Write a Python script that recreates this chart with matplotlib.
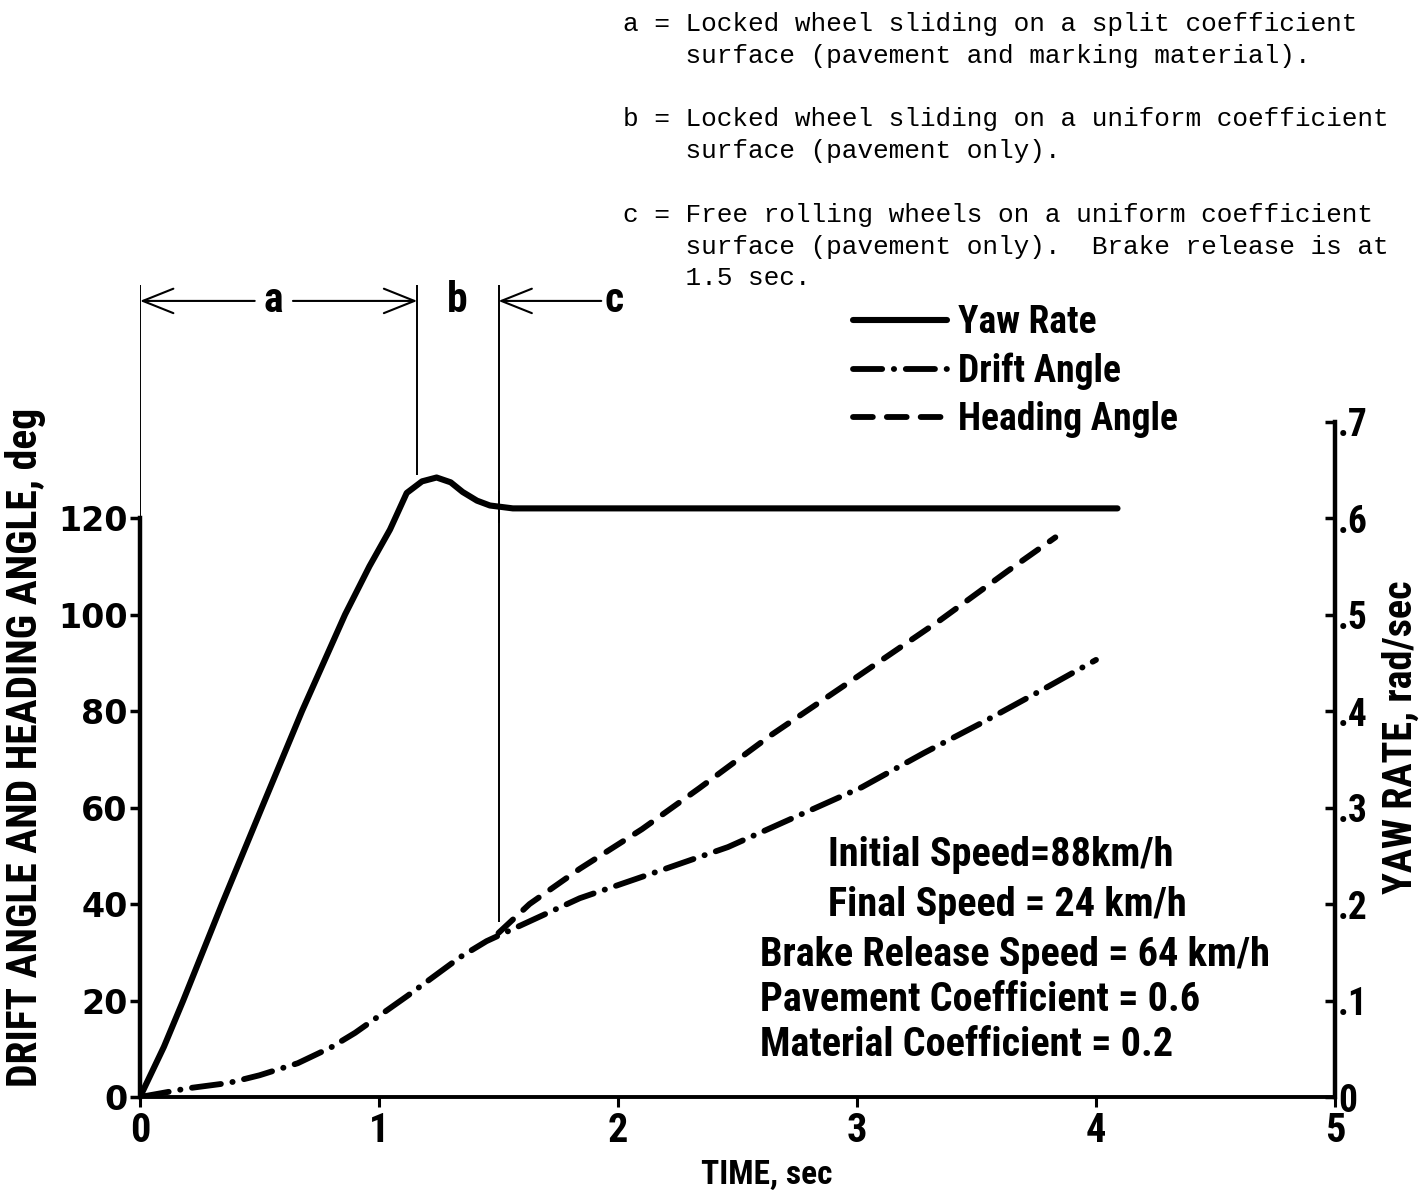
import matplotlib
matplotlib.use("Agg")
import matplotlib.pyplot as plt
from matplotlib import font_manager

# yaw rate, rad/sec
yaw_t = [0, 0.1, 0.18, 0.343, 0.51, 0.678, 0.858, 0.96, 1.046, 1.116, 1.18, 1.241,
         1.3, 1.35, 1.41, 1.464, 1.56, 1.7, 4.09]
yaw_rate = [0, 0.052, 0.0995, 0.2, 0.3, 0.4, 0.5, 0.55, 0.588, 0.626, 0.638, 0.642,
            0.637, 0.627, 0.618, 0.613, 0.610, 0.610, 0.610]

# drift angle, deg
drift_t = [0, 0.09, 0.2, 0.37, 0.5, 0.66, 0.8, 0.9, 1.0, 1.12, 1.23, 1.34, 1.45,
           1.59, 1.84, 2.14, 2.46, 2.74, 3.02, 3.28, 3.52, 3.79, 4.0]
drift_angle = [0, 0.8, 1.8, 2.9, 4.5, 7.0, 10.3, 13.3, 16.8, 21.0, 25.0, 29.0, 32.3,
               35.5, 41.2, 46.3, 51.8, 58.0, 64.2, 71.3, 77.5, 84.8, 90.6]

# heading angle, deg (splits off the drift angle at brake release)
heading_t = [1.5, 1.63, 1.84, 2.1, 2.34, 2.64, 2.98, 3.35, 3.63, 3.83]
heading_angle = [34.0, 40.0, 47.3, 55.5, 64.0, 75.0, 86.4, 98.9, 109.0, 116.0]

angle_ticks = [0, 20, 40, 60, 80, 100, 120]
yaw_ticks = [0, 0.1, 0.2, 0.3, 0.4, 0.5, 0.6, 0.7]
yaw_tick_labels = ["0", ".1", ".2", ".3", ".4", ".5", ".6", ".7"]
time_ticks = [0, 1, 2, 3, 4, 5]

# phase boundaries, sec
lock_end = 1.16
brake_release = 1.5

phase_notes = (
    "a = Locked wheel sliding on a split coefficient\n"
    "    surface (pavement and marking material).\n"
    "\n"
    "b = Locked wheel sliding on a uniform coefficient\n"
    "    surface (pavement only).\n"
    "\n"
    "c = Free rolling wheels on a uniform coefficient\n"
    "    surface (pavement only).  Brake release is at\n"
    "    1.5 sec."
)
test_conditions = [
    "Initial Speed=88km/h",
    "Final Speed = 24 km/h",
    "Brake Release Speed = 64 km/h",
    "Pavement Coefficient = 0.6",
    "Material Coefficient = 0.2",
]


def pick_font(candidates, default):
    names = {f.name for f in font_manager.fontManager.ttflist}
    for name in candidates:
        if name in names:
            return name
    return default


LETTER = pick_font(["Liberation Sans Narrow", "Roboto Condensed", "Roboto"], "DejaVu Sans")
MONO = pick_font(["Liberation Mono"], "DejaVu Sans Mono")
bold = dict(fontfamily=LETTER, fontweight="bold")

W, H = 1426, 1194
fig = plt.figure(figsize=(W / 100, H / 100), dpi=100)

ANGLE_TOP = 168.3
ax = fig.add_axes([140 / W, 97 / H, 1195 / W, 812 / H])
ax.set_xlim(0, 5)
ax.set_ylim(0, ANGLE_TOP)
ax2 = ax.twinx()
ax2.set_ylim(0, ANGLE_TOP / 200)

for a in (ax, ax2):
    a.spines["top"].set_visible(False)
    a.patch.set_visible(False)
ax.spines["right"].set_visible(False)
ax2.spines["left"].set_visible(False)
ax2.spines["bottom"].set_visible(False)
ax.spines["left"].set_bounds(0, 120)
ax.spines["left"].set_linewidth(3.2)
ax.spines["bottom"].set_linewidth(2.8)
ax2.spines["right"].set_bounds(0, 0.7)
ax2.spines["right"].set_linewidth(3.2)

ax.set_yticks(angle_ticks)
ax.set_yticklabels([str(v) for v in angle_ticks], fontfamily="DejaVu Sans",
                   fontweight="bold", fontsize=24)
ax.tick_params(axis="y", direction="out", length=7, width=2.5, pad=2)
ax.set_xticks(time_ticks)
ax.set_xticklabels([str(v) for v in time_ticks], fontsize=29, **bold)
ax.tick_params(axis="x", direction="out", length=7, width=2.2, pad=4)
ax2.set_yticks(yaw_ticks)
ax2.set_yticklabels(yaw_tick_labels, fontsize=27, **bold)
ax2.tick_params(axis="y", direction="in", length=7, width=2.5, pad=2)

ax.set_ylabel("DRIFT ANGLE AND HEADING ANGLE, deg", fontsize=30, **bold)
ax.yaxis.set_label_coords(-0.079, 0.43)
ax2.set_ylabel("YAW RATE, rad/sec", fontsize=29, **bold)
ax2.yaxis.set_label_coords(1.039, 0.443)
ax.set_xlabel("TIME, sec", fontsize=24, **bold)
ax.xaxis.set_label_coords(0.5247, -0.076)

# phase boundary lines and the a / b / c brackets
ax.vlines(0, 120, ANGLE_TOP, color="black", lw=1.4)
ax.vlines(lock_end, 129, ANGLE_TOP, color="black", lw=1.4)
ax.vlines([brake_release, brake_release], [119.0, 36.3], [ANGLE_TOP, 125.5],
          color="black", lw=1.4)

bracket_y = 165.0
arrow = dict(arrowstyle="->,head_length=1.0,head_width=0.4", lw=1.5, color="black",
             mutation_scale=22, shrinkA=0, shrinkB=0)
ax.annotate("", xy=(0, bracket_y), xytext=(0.48, bracket_y), arrowprops=arrow)
ax.annotate("", xy=(lock_end, bracket_y), xytext=(0.64, bracket_y), arrowprops=arrow)
ax.annotate("", xy=(brake_release, bracket_y), xytext=(1.93, bracket_y), arrowprops=arrow)
for label, t in [("a", 0.556), ("b", 1.326), ("c", 1.985)]:
    ax.text(t, bracket_y, label, ha="center", va="center", fontsize=30, **bold)

drift_line, = ax.plot(drift_t, drift_angle, color="black", lw=4.2,
                      dashes=(5.0, 2.0, 0.05, 2.0), dash_capstyle="round",
                      solid_capstyle="round", label="Drift Angle")
heading_line, = ax.plot(heading_t, heading_angle, color="black", lw=4.2,
                        dashes=(3.4, 2.4), dash_capstyle="round",
                        label="Heading Angle")
yaw_line, = ax2.plot(yaw_t, yaw_rate, color="black", lw=4.4,
                     solid_capstyle="round", solid_joinstyle="round",
                     label="Yaw Rate")

ax2.legend(handles=[yaw_line, drift_line, heading_line], loc="upper left",
           bbox_to_anchor=(853 / W, 1 - 304 / H), bbox_transform=fig.transFigure,
           frameon=False, handlelength=2.5, handletextpad=0.3,
           labelspacing=0.3, borderpad=0, borderaxespad=0,
           prop={"family": LETTER, "weight": "bold", "size": 27})

fig.text(623 / W, 1 - 12 / H, phase_notes, ha="left", va="top", fontfamily=MONO,
         fontsize=18.8, linespacing=1.41)

cond_x = [828, 828, 760, 760, 760]
cond_y = [855, 905, 955, 1000, 1045]
for txt, x, y in zip(test_conditions, cond_x, cond_y):
    fig.text(x / W, 1 - y / H, txt, ha="left", va="center", fontsize=29, **bold)

fig.savefig("out.png", dpi=100)
